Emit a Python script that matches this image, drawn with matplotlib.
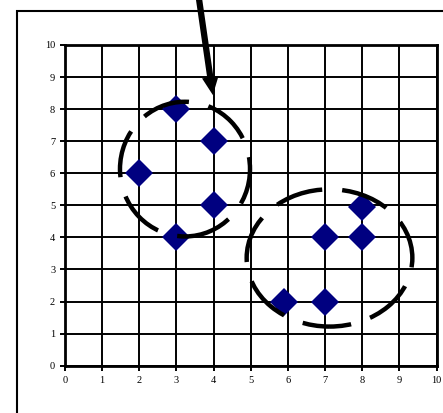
import matplotlib
matplotlib.use("Agg")
import matplotlib.pyplot as plt
from matplotlib.patches import Ellipse, Rectangle

# data points (two clusters)
pts_x = [2, 3, 3, 4, 4, 5.9, 7, 7, 8, 8]
pts_y = [6, 8, 4, 7, 5, 2, 2, 4, 4, 4.95]

ticks = list(range(0, 11))

# dashed circles around the clusters: (cx, cy, width, height, dash offset)
circles = [(3.23, 6.13, 3.5, 4.2, 0.0),
           (7.12, 3.36, 4.46, 4.28, 5.9)]

# arrow tip (data)
arrow_tip = (3.98, 8.44)

plt.rcParams['font.family'] = ['Liberation Serif', 'DejaVu Serif']

fig = plt.figure(figsize=(4.43, 4.13), dpi=100)
ax = fig.add_axes([65 / 443, 1 - 365.7 / 413, 371.5 / 443, 320.7 / 413])

ax.set_xlim(0, 10)
ax.set_ylim(0, 10)
ax.set_xticks(ticks)
ax.set_yticks(ticks)
ax.grid(True, color='black', lw=1.4)
ax.set_axisbelow(True)
for s in ax.spines.values():
    s.set_linewidth(2.0)
    s.set_color('black')
ax.tick_params(direction='out', length=3.6, width=1.4, labelsize=7.5,
               colors='black', pad=3.5)

ax.plot(pts_x, pts_y, 'D', color='#000080', ms=14.3, mew=0, zorder=3)

for cx, cy, w, h, off in circles:
    e = Ellipse((cx, cy), w, h, fill=False, ec='black', lw=3.2,
                linestyle=(off, (10.8, 4.5)), zorder=4)
    ax.add_patch(e)

ax.annotate('', xy=arrow_tip, xycoords='data',
            xytext=(198, 421), textcoords='figure pixels',
            arrowprops=dict(width=4.5, headwidth=12, headlength=13,
                            facecolor='black', edgecolor='black', lw=0,
                            shrink=0),
            annotation_clip=False, zorder=5)

# outer frame
fig.add_artist(Rectangle((17 / 443, -0.1), 1.2, 1 - 11 / 413 + 0.1,
                         transform=fig.transFigure, fill=False,
                         ec='black', lw=1.5))

fig.savefig('out.png', dpi=100)
